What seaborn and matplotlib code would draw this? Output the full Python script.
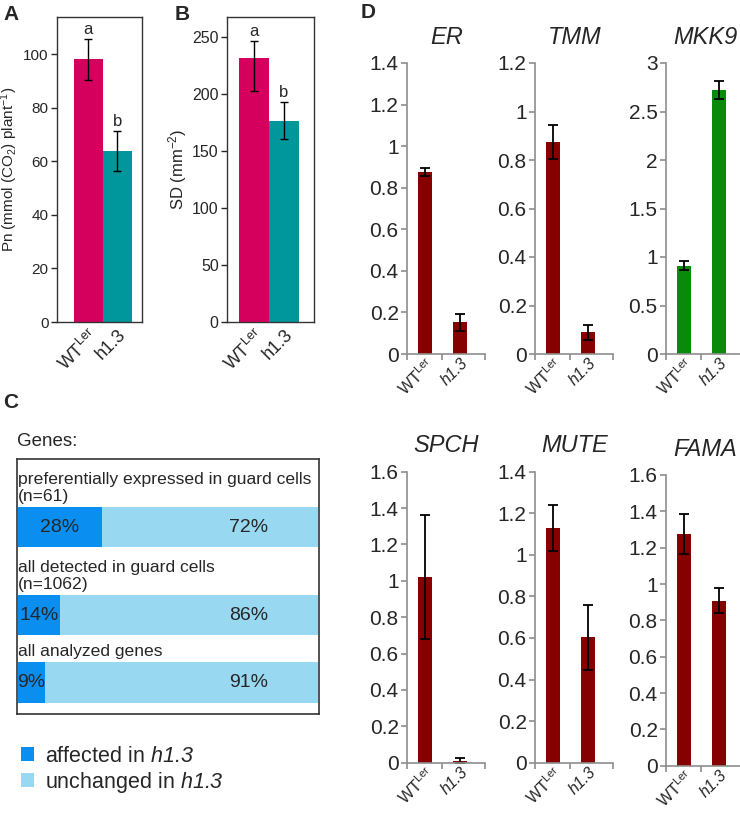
import pandas as pd
import matplotlib.pyplot as plt
from matplotlib.patches import Patch
from matplotlib.transforms import ScaledTranslation
import seaborn as sns

sns.set_style("ticks")
plt.rcParams['font.family'] = ['Liberation Sans', 'DejaVu Sans']
plt.rcParams['mathtext.fontset'] = 'custom'
plt.rcParams['mathtext.rm'] = 'Liberation Sans'
plt.rcParams['mathtext.it'] = 'Liberation Sans:italic'
plt.rcParams['mathtext.sf'] = 'Liberation Sans:italic'
plt.rcParams['mathtext.bf'] = 'Liberation Sans:bold'

# ---- data ----
genotypes = ["WT", "h1.3"]
wt_label = r"WT$^{\mathregular{Ler}}$"

# A: net photosynthesis
pn_mean = [98.2, 63.8]
pn_err = [7.6, 7.5]
pn_letters = ["a", "b"]

# B: stomatal density
sd_mean = [232, 177]
sd_err_low = [29, 16.5]
sd_err_high = [15, 16.5]
sd_letters = ["a", "b"]

# C: gene fractions
c_groups = ["preferentially expressed in guard cells\n(n=61)",
            "all detected in guard cells\n(n=1062)",
            "all analyzed genes"]
c_affected = [28, 14, 9]
c_unchanged = [72, 86, 91]

# D: qRT-PCR
d_genes = ["ER", "TMM", "MKK9", "SPCH", "MUTE", "FAMA"]
d_wt = [0.875, 0.875, 0.91, 1.02, 1.13, 1.275]
d_wt_err = [0.02, 0.07, 0.045, 0.34, 0.11, 0.11]
d_h13 = [0.152, 0.089, 2.72, 0.011, 0.603, 0.908]
d_h13_err = [0.04, 0.032, 0.09, 0.015, 0.157, 0.07]
d_ymax = [1.4, 1.2, 3, 1.6, 1.4, 1.6]
d_ystep = [0.2, 0.2, 0.5, 0.2, 0.2, 0.2]

ab_colors = ["#D5005E", "#00979C"]
red = "#870000"
green = "#0A8A0A"
d_colors = [red, red, green, red, red, red]
dark_blue = "#0A8EEF"
light_blue = "#98D8F0"
axis_gray = "#8E8E8E"

W, H = 740, 814
fig = plt.figure(figsize=(W / 100, H / 100), dpi=100)


def px_axes(left, top, right, bottom):
    return fig.add_axes([left / W, 1 - bottom / H, (right - left) / W, (bottom - top) / H])


def panel_letter(x, y, s):
    fig.text(x / W, 1 - y / H, s, fontsize=15, fontweight="bold", va="top", ha="left")


def shift_labels(labels, dx, dy):
    for lab in labels:
        lab.set_transform(lab.get_transform() + ScaledTranslation(dx / 100, dy / 100, fig.dpi_scale_trans))


# ---- A and B ----
def box_bar(ax, means, err, letters, ylim, yticks, xlim, tick_size):
    df = pd.DataFrame({"g": genotypes, "v": means})
    sns.barplot(df, x="g", y="v", hue="g", palette=ab_colors, width=1.0,
                saturation=1, legend=False, ax=ax, linewidth=0)
    ax.errorbar(range(2), means, yerr=err, fmt="none", ecolor="black",
                elinewidth=1, capsize=3, capthick=1)
    up = err[1] if isinstance(err[0], list) else err
    for i, (m, e, l) in enumerate(zip(means, up, letters)):
        ax.annotate(l, (i, m + e), xytext=(0, 1.5), textcoords="offset points",
                    ha="center", va="bottom", fontsize=12)
    ax.set_xlim(*xlim)
    ax.set_ylim(*ylim)
    ax.set_yticks(yticks)
    ax.set_xticks([0, 1])
    ax.set_xticklabels([wt_label, "h1.3"], rotation=45, ha="right",
                       rotation_mode="anchor", fontsize=13)
    ax.tick_params(axis="x", length=0, pad=3)
    ax.tick_params(axis="y", direction="out", length=4, width=1, labelsize=tick_size, pad=2)
    ax.set_xlabel("")
    for s in ax.spines.values():
        s.set_color("#333333")
        s.set_linewidth(1)
    shift_labels(ax.get_xticklabels(), 0, 0)


axA = px_axes(57, 17, 142, 322)
box_bar(axA, pn_mean, pn_err, pn_letters, (0, 114), range(0, 101, 20), (-1.08, 1.85), 11)
axA.set_ylabel(r"Pn (mmol (CO$_{\mathregular{2}}$) plant$^{\mathregular{-1}}$)",
               fontsize=11, labelpad=2)
axB = px_axes(227, 17, 314, 322)
box_bar(axB, sd_mean, [sd_err_low, sd_err_high], sd_letters, (0, 268), range(0, 251, 50),
        (-0.9, 2.0), 11.5)
axB.set_ylabel(r"SD (mm$^{\mathregular{-2}}$)", fontsize=12, labelpad=2)

panel_letter(3, 5, "A")
panel_letter(175, 5, "B")

# ---- C ----
boxC = px_axes(17, 459, 319, 714)
boxC.set_xticks([])
boxC.set_yticks([])
for s in boxC.spines.values():
    s.set_color("#333333")
    s.set_linewidth(1.2)
fig.text(17 / W, 1 - 442 / H, "Genes:", fontsize=13.5, va="center", ha="left")

row_bands = [(507, 547), (595, 635), (662, 703)]
for (top, bot), grp, aff, unc in zip(row_bands, c_groups, c_affected, c_unchanged):
    ax = px_axes(18, top, 318, bot)
    ax.patch.set_visible(False)
    sns.barplot(x=[aff + unc], y=[grp], orient="h", color=light_blue, width=1.0,
                saturation=1, ax=ax, linewidth=0)
    sns.barplot(x=[aff], y=[grp], orient="h", color=dark_blue, width=1.0,
                saturation=1, ax=ax, linewidth=0)
    ax.set_xlim(0, 100)
    ax.set_ylim(0.5, -0.5)
    ax.axis("off")
    ax.text(aff / 2, 0, f"{aff}%", ha="center", va="center", fontsize=14)
    ax.text(77, 0, f"{unc}%", ha="center", va="center", fontsize=14)
    ax.annotate(grp, (0, 1), xycoords="axes fraction", xytext=(0, 2),
                textcoords="offset points", ha="left", va="bottom",
                fontsize=12.6, linespacing=1.15)

handles = [Patch(facecolor=dark_blue, edgecolor="none"),
           Patch(facecolor=light_blue, edgecolor="none")]
fig.legend(handles, [r"affected in $\mathsf{h1.3}$", r"unchanged in $\mathsf{h1.3}$"],
           loc="upper left", bbox_to_anchor=(21 / W, 1 - 746 / H), frameon=False,
           fontsize=15.5, handlelength=0.62, handleheight=0.62, handletextpad=0.5,
           labelspacing=0.12, borderpad=0, borderaxespad=0)
panel_letter(3, 393, "C")

# ---- D ----
d_pos = [(407, 63, 354), (535, 63, 354), (666, 63, 354),
         (407, 471.7, 762.7), (535, 471.7, 762.7), (666, 475, 765.7)]
for i, gene in enumerate(d_genes):
    left, top, bot = d_pos[i]
    ax = px_axes(left, top, left + 78.4, bot)
    df = pd.DataFrame({"g": genotypes, "v": [d_wt[i], d_h13[i]]})
    sns.barplot(df, x="g", y="v", color=d_colors[i], width=0.39,
                saturation=1, ax=ax, linewidth=0)
    ax.errorbar([0, 1], [d_wt[i], d_h13[i]], yerr=[d_wt_err[i], d_h13_err[i]],
                fmt="none", ecolor="black", elinewidth=1.3, capsize=3.5, capthick=1.3)
    ax.set_xlim(-0.5, 1.72)
    ax.set_ylim(0, d_ymax[i])
    n = int(round(d_ymax[i] / d_ystep[i]))
    yt = [round(k * d_ystep[i], 2) for k in range(n + 1)]
    ax.set_yticks(yt)
    ax.set_yticklabels([f"{v:g}" for v in yt], fontsize=15)
    ax.set_xticks([-0.5, 0.5, 1.72])
    ax.set_xticklabels([])
    ax.set_xticks([0, 1], minor=True)
    labs = ax.set_xticklabels([wt_label, "h1.3"], minor=True, rotation=45,
                              ha="right", rotation_mode="anchor", fontsize=11.5)
    labs[1].set_fontstyle("italic")
    shift_labels(labs, 9, 4)
    ax.tick_params(axis="x", which="minor", length=0, pad=1)
    ax.tick_params(axis="both", which="major", direction="out", length=4,
                   width=1.2, color=axis_gray)
    ax.tick_params(axis="y", pad=2)
    ax.set_xlabel("")
    ax.set_ylabel("")
    sns.despine(ax=ax)
    for s in ["left", "bottom"]:
        ax.spines[s].set_color(axis_gray)
        ax.spines[s].set_linewidth(1.2)
    ax.set_title(gene, fontstyle="italic", fontsize=17, pad=14)

panel_letter(361, 3, "D")

fig.savefig("out.png", dpi=100)
